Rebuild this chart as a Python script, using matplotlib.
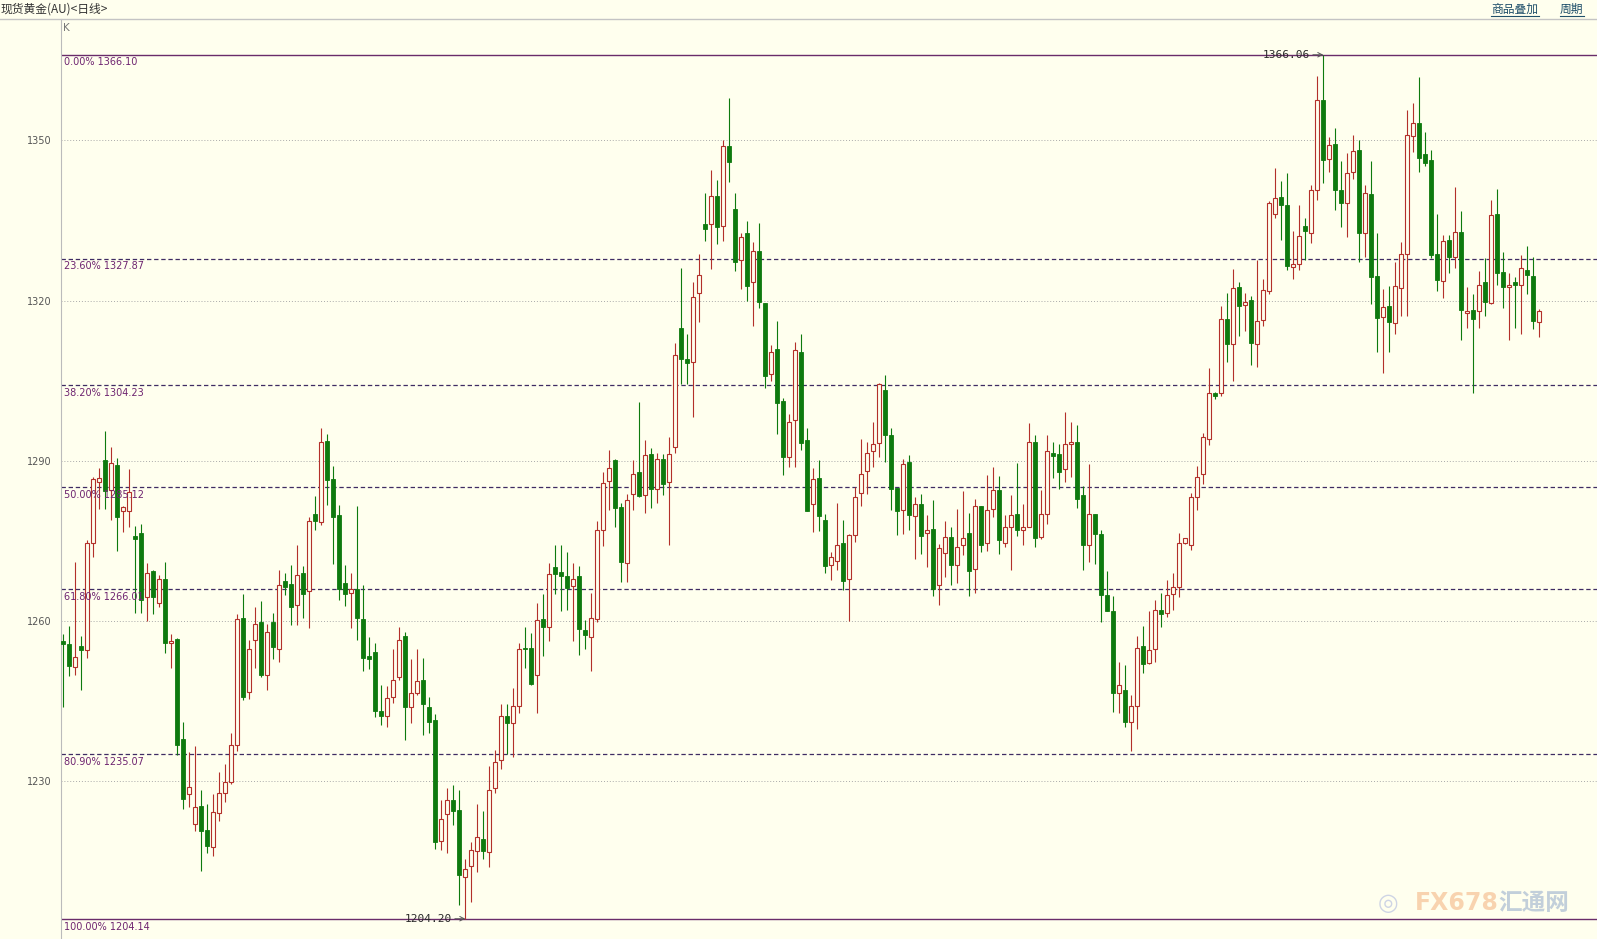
import numpy as np
import matplotlib
matplotlib.use("Agg")
import matplotlib.pyplot as plt
from matplotlib.lines import Line2D

plt.rcParams['font.family'] = ['DejaVu Sans', 'Noto Sans CJK SC']

# daily OHLC of spot gold (oldest first)
opens = [1256.2, 1255.6, 1251.4, 1255.2, 1254.6, 1274.5, 1286.0, 1290.2, 1284.6, 1289.2,
         1280.6, 1280.6, 1275.9, 1276.4, 1264.4, 1269.3, 1263.4, 1267.9, 1255.8, 1256.6,
         1237.8, 1227.6, 1222.0, 1225.4, 1220.8, 1217.6, 1224.0, 1227.8, 1229.8, 1236.7,
         1260.6, 1246.7, 1256.4, 1259.8, 1249.9, 1259.8, 1254.8, 1267.5, 1267.0, 1262.9,
         1268.9, 1265.6, 1280.0, 1278.6, 1293.7, 1286.5, 1279.8, 1267.1, 1265.3, 1265.9,
         1260.4, 1253.5, 1254.1, 1243.1, 1242.2, 1245.8, 1249.4, 1257.1, 1243.9, 1246.5,
         1249.0, 1243.9, 1241.5, 1218.8, 1223.8, 1226.5, 1224.6, 1212.1, 1214.0, 1216.9,
         1219.2, 1216.7, 1228.6, 1233.9, 1242.2, 1240.8, 1244.1, 1255.0, 1255.0, 1249.9,
         1260.4, 1258.9, 1270.1, 1269.1, 1268.5, 1266.5, 1268.4, 1258.2, 1256.9, 1260.4,
         1277.0, 1286.2, 1290.2, 1281.3, 1270.9, 1283.8, 1287.9, 1283.5, 1291.2, 1284.7,
         1290.3, 1286.0, 1292.5, 1314.9, 1309.0, 1308.5, 1321.5, 1334.3, 1334.3, 1339.6,
         1334.0, 1349.0, 1337.2, 1327.6, 1332.6, 1323.4, 1329.3, 1319.5, 1306.2, 1311.0,
         1301.2, 1290.7, 1297.6, 1310.3, 1293.8, 1281.9, 1286.8, 1278.9, 1270.5, 1271.3,
         1274.6, 1267.9, 1276.0, 1284.0, 1288.0, 1291.9, 1293.4, 1303.2, 1294.9, 1284.9,
         1280.7, 1289.8, 1279.6, 1281.9, 1276.5, 1277.2, 1266.8, 1272.7, 1275.8, 1270.5,
         1274.3, 1276.5, 1269.8, 1281.6, 1274.5, 1280.9, 1284.6, 1274.6, 1277.5, 1280.1,
         1277.0, 1277.6, 1293.6, 1275.8, 1280.1, 1291.4, 1291.2, 1288.4, 1293.1, 1293.6,
         1283.6, 1274.2, 1280.1, 1276.2, 1264.8, 1261.8, 1246.5, 1247.0, 1241.1, 1244.0,
         1255.2, 1252.1, 1254.8, 1262.0, 1261.4, 1265.1, 1266.4, 1274.6, 1274.2, 1283.2,
         1287.6, 1294.1, 1302.6, 1302.6, 1316.6, 1311.8, 1322.5, 1319.2, 1320.2, 1311.9,
         1316.4, 1321.8, 1336.3, 1339.4, 1338.0, 1326.3, 1326.8, 1333.9, 1332.6, 1340.7,
         1357.6, 1346.5, 1349.3, 1340.7, 1338.2, 1344.1, 1348.3, 1332.7, 1339.9, 1324.6,
         1316.9, 1318.9, 1315.8, 1322.4, 1328.8, 1350.8, 1353.3, 1347.4, 1346.4, 1328.8,
         1323.7, 1331.3, 1328.2, 1332.8, 1317.7, 1318.3, 1318.1, 1323.5, 1319.6, 1336.2,
         1325.4, 1322.6, 1323.4, 1322.9, 1325.8, 1324.6, 1316.0]
highs = [1257.5, 1259.0, 1271.1, 1257.1, 1275.2, 1287.0, 1288.6, 1295.6, 1292.6, 1290.6,
         1281.5, 1288.4, 1277.8, 1278.2, 1270.8, 1269.6, 1268.6, 1271.1, 1257.6, 1256.8,
         1241.1, 1235.4, 1236.5, 1228.4, 1225.6, 1227.6, 1231.7, 1233.1, 1239.0, 1261.2,
         1265.0, 1256.4, 1262.6, 1263.7, 1259.5, 1261.4, 1269.5, 1269.0, 1270.4, 1274.2,
         1270.2, 1279.4, 1283.4, 1296.1, 1295.0, 1289.0, 1281.8, 1270.4, 1269.0, 1281.5,
         1266.7, 1257.0, 1255.8, 1247.9, 1247.8, 1254.8, 1258.8, 1257.9, 1252.9, 1254.8,
         1253.1, 1245.8, 1242.6, 1226.4, 1228.6, 1229.2, 1228.4, 1215.4, 1218.6, 1225.6,
         1224.3, 1232.8, 1235.9, 1244.5, 1244.5, 1247.5, 1255.8, 1258.8, 1257.8, 1263.4,
         1265.1, 1270.8, 1274.2, 1274.2, 1272.9, 1270.8, 1270.3, 1260.1, 1265.2, 1278.8,
         1287.9, 1292.1, 1290.4, 1282.0, 1283.8, 1290.1, 1301.0, 1293.8, 1292.4, 1291.5,
         1291.2, 1294.5, 1312.0, 1326.2, 1313.8, 1323.5, 1328.8, 1340.1, 1344.5, 1342.6,
         1350.1, 1357.9, 1340.1, 1332.6, 1334.9, 1331.0, 1334.5, 1319.5, 1311.7, 1316.2,
         1301.8, 1298.7, 1312.3, 1313.7, 1296.2, 1288.7, 1290.2, 1280.1, 1272.9, 1282.1,
         1278.9, 1276.2, 1285.1, 1294.1, 1293.5, 1297.2, 1304.5, 1306.0, 1296.2, 1284.9,
         1290.4, 1291.0, 1283.3, 1283.7, 1279.9, 1282.6, 1274.4, 1278.8, 1277.6, 1280.9,
         1284.3, 1280.2, 1282.9, 1281.6, 1287.3, 1288.9, 1287.1, 1279.8, 1283.6, 1289.5,
         1281.9, 1297.1, 1294.8, 1284.6, 1294.8, 1293.6, 1293.2, 1299.2, 1297.3, 1296.7,
         1285.2, 1289.4, 1280.1, 1277.0, 1269.4, 1264.6, 1252.3, 1251.7, 1246.1, 1257.1,
         1259.0, 1261.9, 1263.9, 1265.2, 1267.6, 1269.0, 1276.5, 1275.6, 1283.9, 1289.1,
         1295.2, 1307.4, 1302.8, 1319.0, 1321.5, 1325.9, 1323.4, 1321.5, 1320.8, 1327.7,
         1324.0, 1338.6, 1344.8, 1342.4, 1343.9, 1333.0, 1337.9, 1335.5, 1341.7, 1362.1,
         1366.06, 1350.6, 1352.4, 1346.2, 1347.6, 1351.0, 1350.1, 1341.6, 1346.2, 1332.6,
         1322.2, 1322.7, 1327.2, 1331.0, 1355.8, 1357.1, 1361.9, 1351.6, 1348.2, 1336.3,
         1332.2, 1332.2, 1341.3, 1336.8, 1322.6, 1321.2, 1325.6, 1327.9, 1338.8, 1341.0,
         1329.1, 1325.2, 1324.4, 1328.5, 1330.2, 1328.1, 1318.5]
lows = [1243.9, 1249.7, 1249.9, 1247.1, 1253.1, 1272.0, 1280.9, 1280.9, 1278.9, 1273.1,
        1276.7, 1277.6, 1261.4, 1261.4, 1260.0, 1261.2, 1262.6, 1253.9, 1251.1, 1234.8,
        1224.8, 1225.1, 1220.6, 1213.2, 1216.5, 1215.9, 1222.6, 1226.1, 1229.4, 1235.6,
        1245.1, 1245.4, 1251.1, 1249.5, 1247.0, 1252.9, 1252.3, 1264.8, 1259.2, 1259.2,
        1260.6, 1258.6, 1277.0, 1278.0, 1281.7, 1270.6, 1264.0, 1262.8, 1258.6, 1256.4,
        1250.6, 1251.0, 1242.0, 1240.4, 1240.2, 1244.6, 1248.9, 1237.6, 1240.8, 1246.1,
        1238.6, 1238.9, 1217.3, 1217.0, 1216.5, 1221.7, 1206.7, 1204.2, 1207.3, 1212.9,
        1215.4, 1213.9, 1227.8, 1232.3, 1235.1, 1234.5, 1242.8, 1251.2, 1247.9, 1242.8,
        1253.4, 1256.2, 1265.1, 1261.9, 1262.1, 1256.2, 1253.6, 1254.8, 1250.6, 1259.8,
        1274.0, 1280.8, 1277.6, 1267.2, 1267.2, 1280.7, 1283.2, 1280.3, 1281.2, 1282.0,
        1283.5, 1274.3, 1291.4, 1304.3, 1304.4, 1298.2, 1315.9, 1331.2, 1326.0, 1330.7,
        1331.2, 1342.2, 1325.5, 1322.2, 1319.9, 1315.3, 1318.7, 1303.7, 1304.9, 1295.1,
        1287.4, 1288.8, 1288.8, 1292.0, 1280.5, 1276.6, 1276.8, 1268.9, 1267.7, 1269.6,
        1265.7, 1259.9, 1274.8, 1281.6, 1283.8, 1288.8, 1290.7, 1289.8, 1280.7, 1276.1,
        1276.2, 1277.1, 1271.6, 1272.6, 1270.1, 1264.6, 1262.9, 1268.2, 1266.8, 1267.1,
        1272.4, 1264.6, 1265.2, 1272.9, 1273.0, 1279.4, 1272.5, 1273.9, 1269.6, 1275.9,
        1274.2, 1277.6, 1273.9, 1275.4, 1278.1, 1286.7, 1284.8, 1286.1, 1287.0, 1281.2,
        1269.6, 1271.1, 1270.6, 1259.8, 1261.9, 1242.9, 1242.8, 1240.1, 1235.6, 1239.8,
        1250.2, 1251.9, 1252.3, 1258.8, 1260.8, 1262.1, 1264.5, 1274.4, 1273.2, 1280.8,
        1285.6, 1292.9, 1301.6, 1302.1, 1308.5, 1305.0, 1313.3, 1314.4, 1307.9, 1307.6,
        1315.3, 1321.3, 1335.5, 1331.3, 1325.8, 1324.0, 1325.8, 1327.7, 1330.8, 1338.9,
        1342.0, 1344.1, 1336.9, 1333.7, 1332.0, 1342.7, 1327.2, 1328.1, 1319.4, 1310.4,
        1306.4, 1310.4, 1313.8, 1317.2, 1317.2, 1347.9, 1344.1, 1345.2, 1327.9, 1321.8,
        1320.4, 1325.2, 1326.2, 1312.7, 1314.9, 1302.7, 1314.9, 1317.1, 1319.4, 1322.9,
        1318.7, 1312.7, 1314.8, 1313.7, 1321.3, 1314.6, 1313.2]
closes = [1255.6, 1251.6, 1253.2, 1254.5, 1274.5, 1286.5, 1286.8, 1284.4, 1289.5, 1279.5,
          1281.4, 1284.1, 1275.4, 1263.9, 1268.9, 1264.4, 1267.8, 1255.9, 1256.2, 1236.8,
          1226.7, 1228.8, 1225.2, 1220.6, 1217.8, 1224.1, 1227.8, 1229.8, 1236.8, 1260.4,
          1245.8, 1254.8, 1259.5, 1249.8, 1257.9, 1255.1, 1266.8, 1266.4, 1262.6, 1268.6,
          1265.0, 1278.8, 1278.8, 1293.6, 1286.4, 1279.5, 1265.9, 1265.0, 1265.9, 1260.6,
          1253.1, 1252.9, 1243.1, 1242.2, 1245.6, 1249.0, 1256.4, 1243.9, 1246.4, 1248.7,
          1244.4, 1241.1, 1218.6, 1222.8, 1226.5, 1224.4, 1212.3, 1213.6, 1217.1, 1219.5,
          1216.9, 1228.4, 1233.6, 1242.1, 1240.8, 1244.1, 1254.8, 1254.7, 1248.2, 1260.2,
          1258.8, 1268.8, 1268.8, 1268.4, 1266.2, 1267.9, 1258.4, 1257.3, 1260.6, 1277.1,
          1285.9, 1288.7, 1281.2, 1271.0, 1282.7, 1287.6, 1283.4, 1291.0, 1284.8, 1290.3,
          1285.6, 1291.2, 1309.8, 1309.0, 1308.4, 1320.7, 1324.8, 1333.5, 1339.6, 1333.8,
          1349.0, 1346.0, 1327.2, 1332.0, 1322.8, 1329.3, 1319.7, 1305.9, 1310.4, 1300.9,
          1290.7, 1297.2, 1310.7, 1293.4, 1280.6, 1286.6, 1279.6, 1270.2, 1271.9, 1274.3,
          1267.4, 1276.1, 1283.3, 1287.6, 1291.4, 1293.2, 1304.4, 1294.8, 1284.8, 1280.5,
          1289.4, 1279.9, 1281.9, 1275.9, 1277.1, 1266.0, 1273.7, 1275.8, 1270.5, 1273.9,
          1275.6, 1269.3, 1281.6, 1274.3, 1280.8, 1284.6, 1275.2, 1277.5, 1279.9, 1277.1,
          1277.5, 1293.6, 1275.6, 1280.1, 1291.9, 1290.8, 1287.9, 1293.1, 1293.6, 1282.9,
          1274.2, 1280.0, 1276.2, 1264.9, 1261.9, 1246.4, 1247.9, 1241.1, 1244.0, 1255.0,
          1252.0, 1254.6, 1262.1, 1261.2, 1264.8, 1266.3, 1274.6, 1275.5, 1283.2, 1287.0,
          1294.5, 1302.6, 1302.2, 1316.6, 1311.9, 1322.3, 1319.0, 1319.7, 1312.1, 1316.2,
          1322.0, 1338.2, 1339.3, 1337.9, 1326.5, 1326.9, 1332.1, 1333.0, 1340.8, 1357.5,
          1346.4, 1349.1, 1340.7, 1338.2, 1343.9, 1348.1, 1332.7, 1340.1, 1324.4, 1316.8,
          1318.8, 1316.0, 1322.7, 1328.7, 1351.0, 1353.2, 1346.8, 1345.8, 1328.6, 1323.9,
          1331.2, 1328.2, 1332.9, 1318.3, 1318.1, 1316.6, 1322.9, 1319.8, 1336.0, 1325.2,
          1322.6, 1323.0, 1323.0, 1326.2, 1324.8, 1316.2, 1318.1]

# Fibonacci retracement levels drawn on the chart
fib_pcts = ['0.00%', '23.60%', '38.20%', '50.00%', '61.80%', '80.90%', '100.00%']
fib_prices = [1366.10, 1327.87, 1304.23, 1285.12, 1266.01, 1235.07, 1204.14]
grid_prices = [1230, 1260, 1290, 1320, 1350]

BG = '#FFFFEE'
UP = '#B3302A'
DOWN = '#0E7A0E'
FIB = '#3F2C63'
FIB_TXT = '#6E2470'


def plot_gold_daily():
    o = np.array(opens)
    h = np.array(highs)
    l = np.array(lows)
    c = np.array(closes)
    x = np.arange(len(o))
    up = c >= o

    fig = plt.figure(figsize=(15.97, 9.39), dpi=100, facecolor=BG)
    ax = fig.add_axes([61 / 1597, 0, 1536 / 1597, 920 / 939])
    ax.set_facecolor(BG)

    # header
    fig.add_artist(Line2D([0, 1], [920 / 939, 920 / 939], color='#C4C4C4', lw=1))
    fig.text(1 / 1597, 1 - 9 / 939, '现货黄金(AU)<日线>', fontsize=8.5, color='#333333',
             va='center', ha='left', family=['Noto Sans CJK SC', 'DejaVu Sans'])
    for label, x0 in [('商品叠加', 1491), ('周期', 1560)]:
        fig.text(x0 / 1597, 1 - 9 / 939, label, fontsize=8.5, color='#1F4F6A',
                 va='center', ha='left', family=['Noto Sans CJK SC', 'DejaVu Sans'])
        w = 48 if len(label) == 4 else 24
        fig.add_artist(Line2D([x0 / 1597, (x0 + w) / 1597], [1 - 16 / 939, 1 - 16 / 939],
                              color='#1F4F6A', lw=0.8))

    # grid and retracement lines
    for g in grid_prices:
        ax.axhline(g, color='#AAAAAA', lw=0.7, linestyle=(0, (1, 2)), zorder=1)
    for i, (pct, price) in enumerate(zip(fib_pcts, fib_prices)):
        if i == 0 or i == len(fib_prices) - 1:
            ax.axhline(price, color='#6A2C6A', lw=1.0, zorder=2)
        else:
            ax.axhline(price, color=FIB, lw=0.9, linestyle=(0, (3.5, 2.2)), zorder=2)
        ax.annotate(f'{pct} {price:.2f}', xy=(0, price), xycoords=('axes fraction', 'data'),
                    xytext=(2, -2), textcoords='offset points', fontsize=7,
                    color=FIB_TXT, va='top', ha='left', zorder=6)

    # candles: wicks then bodies
    ax.vlines(x[up], l[up], h[up], color=UP, lw=0.8, zorder=3)
    ax.vlines(x[~up], l[~up], h[~up], color=DOWN, lw=0.8, zorder=3)
    body_lo = np.minimum(o, c)
    body_h = np.maximum(np.abs(c - o), 0.3)
    ax.bar(x[up], body_h[up], bottom=body_lo[up], width=0.66, color=BG,
           edgecolor=UP, linewidth=0.8, zorder=4)
    ax.bar(x[~up], body_h[~up], bottom=body_lo[~up], width=0.66, color=DOWN,
           edgecolor=DOWN, linewidth=0.6, zorder=4)

    # high / low markers
    hi = int(np.argmax(h))
    lo = int(np.argmin(l))
    for idx, val in [(hi, h[hi]), (lo, l[lo])]:
        ax.annotate(f'{val:.2f}', xy=(idx, val), xytext=(idx - 2.2, val),
                    fontsize=8, color='#2A2A2A', family='DejaVu Sans Mono',
                    ha='right', va='center', zorder=6,
                    arrowprops=dict(arrowstyle='->', color='#555555', lw=0.7,
                                    shrinkA=0, shrinkB=0))

    ax.text(2 / 1536, 1 - 9 / 920, 'K', transform=ax.transAxes, fontsize=7.5,
            color='#777777', va='center', ha='left')

    # watermark
    fig.text(1378 / 1597, 1 - 903 / 939, '◎', fontsize=17, color='#C9D0E4',
             va='center', ha='left', alpha=0.9)
    fig.text(1415 / 1597, 1 - 903 / 939, 'FX678', fontsize=17, color='#F7C9A0',
             va='center', ha='left', fontweight='bold', alpha=0.8)
    fig.text(1498 / 1597, 1 - 903 / 939, '汇通网', fontsize=17, color='#BCCAD8',
             va='center', ha='left', fontweight='bold', alpha=0.9,
             family=['Noto Sans CJK SC', 'DejaVu Sans'])

    ax.set_xlim(-0.383, 255.62)
    ax.set_ylim(1200.4, 1372.76)
    ax.set_yticks(grid_prices)
    ax.set_yticklabels([str(g) for g in grid_prices])
    ax.tick_params(axis='y', length=0, pad=7, labelsize=7, labelcolor='#555555')
    ax.set_xticks([])
    for s in ['top', 'right', 'bottom']:
        ax.spines[s].set_visible(False)
    ax.spines['left'].set_color('#BBBBBB')

    fig.savefig('out.png', dpi=100, facecolor=BG)


if __name__ == "__main__":
    plot_gold_daily()
